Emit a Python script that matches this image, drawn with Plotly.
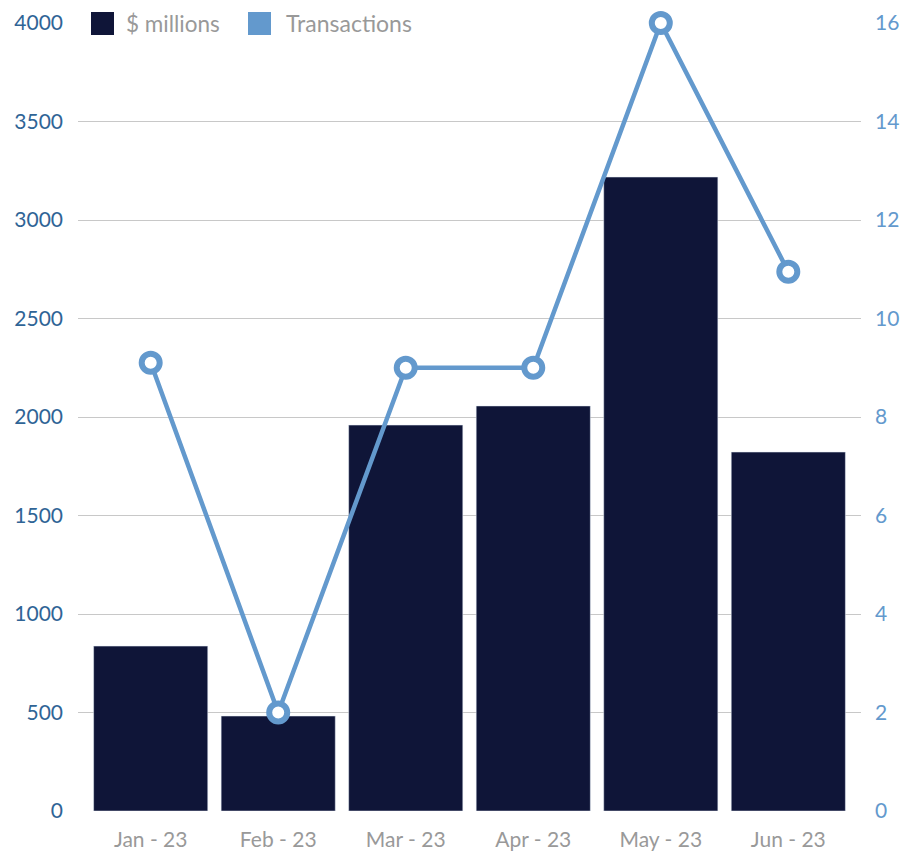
import plotly.graph_objects as go

months = ["Jan - 23", "Feb - 23", "Mar - 23", "Apr - 23", "May - 23", "Jun - 23"]
dollars_millions = [837, 482, 1959, 2056, 3218, 1822]
transactions = [9.1, 2, 9, 9, 16, 10.95]
legend_labels = ["$ millions", "Transactions"]

BAR = "#0f1538"
LINE = "#6399cd"
W, H = 901, 852
L, R, T, B = 78, 40, 23, 41
PW, PH = W - L - R, H - T - B

def px(x):
    return (x - L) / PW

def py(y):
    return (H - B - y) / PH

fig = go.Figure()
fig.add_trace(go.Bar(x=list(range(len(months))), y=dollars_millions, marker_color=BAR,
                     width=0.895, showlegend=False, name=legend_labels[0]))
fig.add_trace(go.Scatter(x=list(range(len(months))), y=transactions, yaxis="y2",
                         mode="lines+markers", name=legend_labels[1], showlegend=False,
                         cliponaxis=False,
                         line=dict(color=LINE, width=4.5),
                         marker=dict(size=18, color="white", line=dict(color=LINE, width=6))))

font = "Lato"
fig.update_layout(
    width=W, height=H,
    margin=dict(l=L, r=R, t=T, b=B, pad=0, autoexpand=False),
    paper_bgcolor="white", plot_bgcolor="white",
    font=dict(family=font),
    xaxis=dict(range=[-0.57, 5.57], tickmode="array", tickvals=list(range(len(months))),
               ticktext=months, showgrid=False, zeroline=False, showline=False, automargin=False,
               tickfont=dict(size=21, color="#999999"), ticks="", ticklabelstandoff=14),
    yaxis=dict(range=[0, 4000], dtick=500, showgrid=True, gridcolor="#c8c8c8", gridwidth=1,
               zeroline=False, showline=False, automargin=False,
               tickfont=dict(size=21, color="#2f6496"), ticks="", ticklabelstandoff=14),
    yaxis2=dict(range=[0, 16], dtick=2, overlaying="y", side="right", showgrid=False,
                zeroline=False, showline=False, automargin=False,
                tickfont=dict(size=21, color="#6399cd"), ticks="", ticklabelstandoff=13),
    showlegend=False,
)

shapes = [
    dict(type="rect", xref="paper", yref="paper", x0=px(76), x1=px(426), y0=py(38), y1=py(8),
         fillcolor="white", line=dict(width=0), layer="above"),
    dict(type="rect", xref="paper", yref="paper", x0=px(91), x1=px(114), y0=py(35), y1=py(12),
         fillcolor=BAR, line=dict(width=0), layer="above"),
    dict(type="rect", xref="paper", yref="paper", x0=px(248), x1=px(271), y0=py(35), y1=py(12),
         fillcolor=LINE, line=dict(width=0), layer="above"),
]
annotations = [
    dict(text=legend_labels[0], xref="paper", yref="paper", x=px(124), y=py(23),
         xanchor="left", yanchor="middle", showarrow=False,
         font=dict(size=22.5, color="#999999", family=font)),
    dict(text=legend_labels[1], xref="paper", yref="paper", x=px(284), y=py(23),
         xanchor="left", yanchor="middle", showarrow=False,
         font=dict(size=23, color="#999999", family=font)),
]
fig.update_layout(shapes=shapes, annotations=annotations)
fig.write_html("out.html", post_script="document.body.style.margin='0';",
               config={"displayModeBar": False})
